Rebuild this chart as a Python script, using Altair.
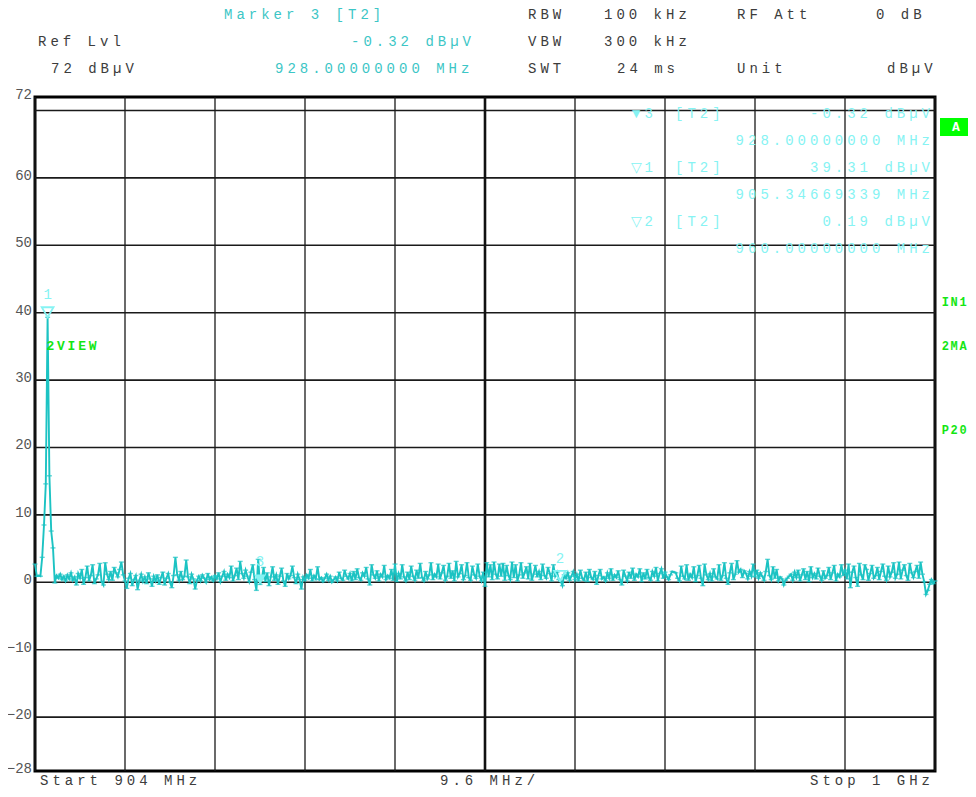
import altair as alt
import numpy as np
import pandas as pd

# ---------------- data ----------------
f_start, f_stop = 904.0, 1000.0
level = [
    2.7, 0.9, 1.0, 0.9, 3.7, 8.5, 14.6, 39.31, 15.8, 7.6, 5.1, -0.1, 1.0, 0.6, 1.2, 0.4, 0.9, 0.2, 1.1, 0.5, 1.4, 0.3, 0.8, -0.4, 1.3,
    0.6, 1.9, -0.3, 0.7, 2.4, 0.2, 1.0, 2.6, -0.2, 0.5, 1.1, 2.8, 0.1, -0.4, 2.9, 1.2, 0.4, 1.6, 0.3, 2.2, 1.4, 0.8, 1.9, 3.0, 1.1,
    0.2, -0.9, 0.6, 1.3, -0.5, 0.4, 1.0, -1.1, 0.3, 1.2, 0.1, 0.8, -0.2, 1.4, 0.5, -0.6, 0.9, 0.2, 1.1, -0.3, 0.7, 1.5, -0.4, 0.6, 1.3,
    0.0, -0.8, 1.0, 3.7, 1.1, 0.3, 1.6, 0.4, 0.9, 3.3, 0.8, -0.2, 1.2, 0.5, -1.0, 0.3, 0.9, 0.2, 1.1, 0.6, 0.0, 1.3, 0.4, 0.8, 0.2,
    1.0, 0.5, 1.4, 0.1, 0.9, 1.6, 0.3, 1.2, 0.7, 2.4, 0.2, 1.0, 2.1, 0.4, 3.1, 1.3, 0.6, 1.8, 0.9, 0.1, 1.5, 2.6, 0.4, -1.2, 3.4,
    -0.32, 0.5, 2.2, 0.1, 1.4, -0.5, 0.8, 2.3, 0.3, 1.1, -0.3, 0.9, 2.1, 0.2, -0.6, 1.3, 0.5, 1.0, 2.4, 0.7, -0.2, 1.2, 0.4, -1.0, 0.8,
    0.3, 1.1, 0.6, 1.9, 0.2, 1.0, 0.5, 2.3, 0.4, 0.7, 0.1, 0.6, 1.2, 0.3, 0.9, 0.0, 0.4, 0.8, 0.2, 1.5, 0.6, 0.3, 1.8, 0.9, 0.5,
    1.3, 0.2, 1.6, 0.4, 2.0, 0.7, 0.3, 1.4, 0.9, 2.2, 0.5, -0.4, 2.6, 1.1, 0.6, 1.7, 0.2, 1.2, 0.8, 2.5, 0.4, 1.0, 0.6, 1.9, 0.3,
    2.7, 0.1, 1.3, 0.5, 2.6, 0.8, 0.2, 1.5, 0.4, 2.4, 0.9, 0.3, 1.8, 0.6, 2.8, 0.7, 0.2, 1.6, 0.5, 1.1, 2.9, 0.4, 1.2, 0.8, 2.7,
    0.5, 1.4, 2.5, 0.3, 0.9, 2.8, 0.6, 1.7, 0.2, 3.1, 0.8, 1.3, 2.6, 0.4, 1.0, 2.9, 0.7, 0.3, 2.4, 1.1, 0.6, 2.7, 0.9, 0.2, 1.5,
    -0.6, 2.9, 0.8, 2.6, 0.4, 3.0, 1.2, 0.5, 2.7, 0.9, 2.8, 0.3, 2.5, 1.0, 0.4, 3.0, 0.7, 2.6, 0.2, 1.1, 2.9, 0.6, 1.4, 2.3, 0.5,
    2.8, 0.3, 1.2, 2.5, 0.8, 1.6, 0.4, 2.7, 1.0, 0.6, 2.2, 1.3, 0.2, 2.6, 0.9, 1.5, 0.4, 0.19, -0.5, 1.1, 0.6, 1.4, 0.3, 0.9, 1.6,
    0.4, 1.2, 0.2, 1.8, 0.6, 0.3, 1.5, 0.1, 1.9, 0.7, 0.4, 1.6, -0.3, 1.0, 1.9, 0.5, 0.8, 0.2, 1.4, 0.6, 2.0, 0.3, 1.1, 0.7, 1.7,
    0.4, -0.4, 1.8, 0.9, 0.2, 1.5, 0.6, 2.1, 0.3, 1.2, 0.8, 2.0, 0.1, 1.4, 0.5, 1.9, 0.7, 0.3, 1.6, 0.9, 2.2, 0.2, 1.3, 2.0, 0.6,
    1.5, 0.8, 0.4, 1.1, 1.6, 1.5, 1.4, 0.6, 0.2, 2.4, 0.9, 0.5, 2.6, 0.3, 1.2, 0.7, 2.3, 0.1, 1.0, 2.5, 0.6, -0.5, 2.7, 1.1, 0.4,
    1.3, 0.2, 2.0, 0.8, 0.5, 2.6, 0.3, 1.0, 2.9, 0.6, -0.3, 1.4, 2.8, 0.4, 1.2, 3.2, 1.5, 1.9, 0.7, 1.7, 1.3, 0.5, 1.6, 0.9, 2.7,
    0.8, 1.8, 0.6, 1.4, 0.9, 0.3, 1.6, 3.4, 1.0, 0.4, 2.3, 0.6, 1.9, 0.2, 0.8, 0.5, -0.4, 0.3, 0.6, 0.9, 1.2, 0.3, 1.5, 0.7, 1.8,
    0.2, 1.1, 2.0, 0.4, 1.6, 0.1, 2.3, 0.7, 1.3, 0.5, 2.1, 0.9, 0.3, 1.7, 0.6, 1.0, 2.2, 0.4, 1.4, 2.5, 0.2, 1.2, 0.8, 2.6, 1.0,
    1.8, 0.5, 2.7, -0.8, 1.5, 2.4, 0.7, -0.6, 2.8, 1.1, 0.4, 2.6, 1.9, 0.3, 1.3, 2.5, 0.6, 1.0, 2.2, 0.4, 1.6, 2.7, 0.9, 0.3, 2.4,
    0.8, 1.5, 2.9, 0.6, 1.2, 3.0, 0.5, 1.8, 2.6, 1.0, 0.3, 2.8, 1.4, 0.7, 1.6, 2.5, 0.6, 3.0, 1.2, 0.1, -1.8, -1.2, -0.3, 0.4, -0.2,
    0.2,
]
freq = np.linspace(f_start, f_stop, len(level))  # evenly spaced sweep points

y_labels = [72, 60, 50, 40, 30, 20, 10, 0, -10, -20, -28]
h_grid = [70, 60, 50, 40, 30, 20, 10, 0, -10, -20]
v_grid = [904.0, 913.6, 923.2, 932.8, 942.4, 952.0, 961.6, 971.2, 980.8, 990.4, 1000.0]
center_line = [952.0]

marker_no = [1, 2, 3]
marker_freq = [905.34669339, 960.0, 928.0]
marker_level = [39.31, 0.19, -0.32]
marker_filled = [False, False, True]

# ---------------- style ----------------
TRACE = "#1cc3c3"
MK = "#86f3f3"
TEAL = "#3cc6c6"
GRAY = "#3c3c3c"
GREEN = "#14e614"
FONT = "Liberation Mono"
OX, OY = 35, 97      # plot origin on the page
ADV = 12.4           # character advance of the instrument font

def chars(s, x0, yc, adv=ADV):
    return [dict(px=x0 - OX + adv * i + adv / 2, py=yc - OY, ch=c)
            for i, c in enumerate(s) if c != " "]

def right(s, xr):
    return xr - ADV * len(s)

# header (gray)
gray_txt = []
for s, x, y in [("RBW", 526, 15), ("100 kHz", 602, 15), ("RF Att", 735, 15), ("0 dB", 874, 15),
                ("Ref Lvl", 36, 42), ("VBW", 526, 42), ("300 kHz", 602, 42),
                ("72 dBµV", 49, 69), ("SWT", 526, 69), ("24 ms", 615, 69), ("Unit", 735, 69),
                ("dBµV", 885, 69),
                ("Start 904 MHz", 38, 781), ("9.6 MHz/", 438, 781), ("Stop 1 GHz", 808, 781)]:
    gray_txt += chars(s, x, y)

# active marker header (teal)
act = 2
teal_txt = []
teal_txt += chars(f"Marker {marker_no[act]} [T2]", 222, 15)
s = f"{marker_level[act]:.2f} dBµV"
teal_txt += chars(s, right(s, 473), 42)
teal_txt += chars(f"{marker_freq[act]:.8f} MHz", 273, 69)

# marker table (light cyan)
tab_txt = []
row_y = 114
for k in [2, 0, 1]:
    sym = "▼" if marker_filled[k] else "▽"
    tab_txt += chars(f"{sym}{marker_no[k]}", 630, row_y)
    tab_txt += chars("[T2]", 673, row_y)
    s = f"{marker_level[k]:.2f} dBµV"
    tab_txt += chars(s, right(s, 932), row_y)
    s = f"{marker_freq[k]:.8f} MHz"
    tab_txt += chars(s, right(s, 932), row_y + 27)
    row_y += 54

green_txt = chars("2VIEW", 45, 346, adv=10.6)
side_txt = []
for s, x, y in [("IN1", 941, 302), ("2MA", 941, 346), ("P20", 941, 430)]:
    side_txt += chars(s, x, y, adv=8.8)

trace_df = pd.DataFrame({"f": freq, "l": level})
mk_df = pd.DataFrame({"f": marker_freq, "l": marker_level, "n": [str(n) for n in marker_no],
                      "filled": marker_filled})

xs = alt.Scale(domain=[f_start, f_stop], nice=False, zero=False)
ys = alt.Scale(domain=[-28, 72], nice=False, zero=False)

X = lambda f: alt.X(f, scale=xs, axis=None)
Y = lambda f: alt.Y(f, scale=ys, axis=None)

vgrid = alt.Chart(pd.DataFrame({"v": v_grid})).mark_rule(color="#1a1a1a", strokeWidth=1.3).encode(
    x=X("v:Q"))
hgrid = alt.Chart(pd.DataFrame({"h": h_grid})).mark_rule(color="#1a1a1a", strokeWidth=1.6).encode(
    y=Y("h:Q"))
cline = alt.Chart(pd.DataFrame({"v": center_line})).mark_rule(color="#111111", strokeWidth=2.6).encode(
    x=X("v:Q"))
ylab = alt.Chart(pd.DataFrame({"t": y_labels})).mark_text(
    font=FONT, fontSize=14, color="#555555", align="right", baseline="middle", dy=-2).encode(
    x=alt.value(-3), y=Y("t:Q"), text="t:Q")

trace = alt.Chart(trace_df).mark_line(color=TRACE, strokeWidth=1.9).encode(
    x=X("f:Q"), y=Y("l:Q"))
ticks = alt.Chart(trace_df).mark_tick(color=TRACE, orient="horizontal", size=5, thickness=1.4).encode(
    x=X("f:Q"), y=Y("l:Q"))

TRI = "M-1,-1.7L1,-1.7L0,0Z"
mk_open = alt.Chart(mk_df).transform_filter("!datum.filled").mark_point(
    shape=TRI, size=140, filled=False, color=MK, strokeWidth=1.8, opacity=1).encode(
    x=X("f:Q"), y=Y("l:Q"))
mk_fill = alt.Chart(mk_df).transform_filter("datum.filled").mark_point(
    shape=TRI, size=140, filled=True, color=MK, opacity=1).encode(
    x=X("f:Q"), y=Y("l:Q"))
mk_lab = alt.Chart(mk_df).mark_text(font=FONT, fontSize=14, color=MK, dy=-22).encode(
    x=X("f:Q"), y=Y("l:Q"), text="n:N")

def text_layer(rows, color, size=14, weight="normal"):
    return alt.Chart(pd.DataFrame(rows)).mark_text(
        font=FONT, fontSize=size, fontWeight=weight, color=color,
        align="center", baseline="middle").encode(
        x=alt.X("px:Q", scale=None, axis=None),
        y=alt.Y("py:Q", scale=None, axis=None),
        text="ch:N")

a_box = alt.Chart(pd.DataFrame({"k": [0]})).mark_rect(color="#00ff00").encode(
    x=alt.value(905), x2=alt.value(937), y=alt.value(21), y2=alt.value(39))
a_txt = alt.Chart(pd.DataFrame({"k": ["A"]})).mark_text(
    font=FONT, fontSize=13, fontWeight="bold", color="white").encode(
    x=alt.value(921), y=alt.value(30), text="k:N")

chart = alt.layer(
    hgrid, vgrid, cline, ylab, trace, ticks, mk_open, mk_fill, mk_lab,
    text_layer(gray_txt, GRAY), text_layer(teal_txt, TEAL), text_layer(tab_txt, MK),
    text_layer(green_txt, GREEN, size=13, weight="bold"),
    text_layer(side_txt, GREEN, size=12, weight="bold"), a_box, a_txt,
).properties(
    width=900, height=674,
    autosize=alt.AutoSizeParams(type="none"),
    padding={"left": 27, "top": 89, "right": 33, "bottom": 18},
    background="white",
).configure_view(stroke="#000000", strokeWidth=3)

chart.save("out.html", embed_options={"renderer": "svg", "actions": False})
